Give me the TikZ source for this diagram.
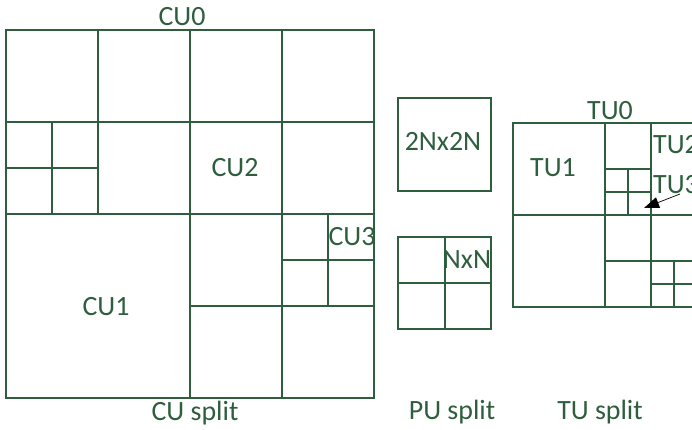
\documentclass[tikz,border=0pt]{standalone}
\usepackage{fontspec}
\setmainfont{Carlito}
\usetikzlibrary{arrows.meta}
\definecolor{cugruen}{rgb}{0.18,0.37,0.24}
\tikzset{
  quad/.style={line width=1.2bp,cugruen},
  lbl/.style={font=\fontsize{28}{31}\selectfont,text=cugruen,inner sep=0pt,anchor=base},
}

\begin{document}
\begin{tikzpicture}[yscale=-1,x=1bp,y=1bp]
  \useasboundingbox (0,0) rectangle (692,429);

  % ======================================================================
  % CU split: Quadtree des CTU
  % ======================================================================
  \draw[quad] (6,30) rectangle (374,398);
  \draw[quad] (98,30) -- (98,214);
  \draw[quad] (190,30) -- (190,398);
  \draw[quad] (282,30) -- (282,398);
  \draw[quad] (6,122) -- (374,122);
  \draw[quad] (6,214) -- (374,214);
  \draw[quad] (190,306) -- (374,306);

  % --- kleine Bloecke links und rechts ---
  \draw[quad] (52,122) -- (52,214);
  \draw[quad] (6,168) -- (98,168);
  \draw[quad] (328,214) -- (328,306);
  \draw[quad] (282,260) -- (374,260);

  \node[lbl] (cu0) at (182,25) {CU0};
  \node[lbl] (cu2) at (235,176) {CU2};
  \node[lbl] (cu1) at (106,315) {CU1};
  \node[lbl] (cu3) at (352,245) {CU3};
  \node[lbl] (cusplit) at (195,420) {CU split};

  % ======================================================================
  % PU split: 2Nx2N und NxN
  % ======================================================================
  \draw[quad] (398,98) rectangle (491,191);
  \draw[quad] (398,237) rectangle (491,329);
  \draw[quad] (445,237) -- (445,329);
  \draw[quad] (398,283) -- (491,283);

  \node[lbl] (pu2n) at (443,150) {2Nx2N};
  \node[lbl] (punn) at (467,268) {NxN};
  \node[lbl] (pusplit) at (452,419) {PU split};

  % ======================================================================
  % TU split: Residual-Quadtree (rechts abgeschnitten)
  % ======================================================================
  \draw[quad] (513,123) rectangle (697,307);
  \draw[quad] (605,123) -- (605,307);
  \draw[quad] (513,215) -- (697,215);
  \draw[quad] (651,123) -- (651,307);
  \draw[quad] (605,169) -- (651,169);
  \draw[quad] (628,169) -- (628,215);
  \draw[quad] (605,192) -- (651,192);
  \draw[quad] (605,261) -- (697,261);
  \draw[quad] (674,261) -- (674,307);
  \draw[quad] (651,284) -- (697,284);

  \node[lbl] (tu0) at (610,119) {TU0};
  \node[lbl] (tu1) at (553,176) {TU1};
  \node[lbl,anchor=base west] (tu2) at (653,153) {TU2};
  \node[lbl,anchor=base west] (tu3) at (653,193) {TU3};
  \node[lbl] (tusplit) at (600,419) {TU split};

  % --- Pfeil von TU3 auf den kleinsten Block ---
  \coordinate (tu3fuss) at (680,194);
  \coordinate (tu3spitze) at (644,208);
  \draw[line width=0.7bp,-{Triangle[length=15bp,width=11bp]}] (tu3fuss) -- (tu3spitze);

\end{tikzpicture}
\end{document}
